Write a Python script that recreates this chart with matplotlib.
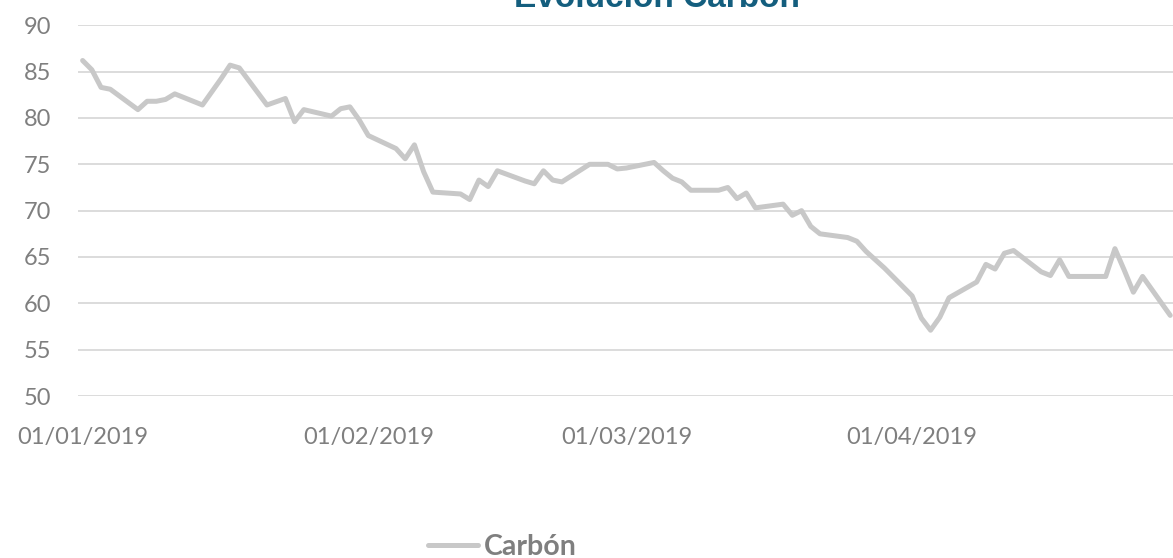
import matplotlib
matplotlib.use("Agg")

import matplotlib.pyplot as plt
import matplotlib.dates as mdates
import pandas as pd

# =============================================================================
# DATA (business days Jan-Apr 2019)
# =============================================================================
dates = [
    "2019-01-01", "2019-01-02", "2019-01-03", "2019-01-04",
    "2019-01-07", "2019-01-08", "2019-01-09", "2019-01-10", "2019-01-11",
    "2019-01-14", "2019-01-15", "2019-01-16", "2019-01-17", "2019-01-18",
    "2019-01-21", "2019-01-22", "2019-01-23", "2019-01-24", "2019-01-25",
    "2019-01-28", "2019-01-29", "2019-01-30", "2019-01-31", "2019-02-01",
    "2019-02-04", "2019-02-05", "2019-02-06", "2019-02-07", "2019-02-08",
    "2019-02-11", "2019-02-12", "2019-02-13", "2019-02-14", "2019-02-15",
    "2019-02-18", "2019-02-19", "2019-02-20", "2019-02-21", "2019-02-22",
    "2019-02-25", "2019-02-26", "2019-02-27", "2019-02-28", "2019-03-01",
    "2019-03-04", "2019-03-05", "2019-03-06", "2019-03-07", "2019-03-08",
    "2019-03-11", "2019-03-12", "2019-03-13", "2019-03-14", "2019-03-15",
    "2019-03-18", "2019-03-19", "2019-03-20", "2019-03-21", "2019-03-22",
    "2019-03-25", "2019-03-26", "2019-03-27", "2019-03-28", "2019-03-29",
    "2019-04-01", "2019-04-02", "2019-04-03", "2019-04-04", "2019-04-05",
    "2019-04-08", "2019-04-09", "2019-04-10", "2019-04-11", "2019-04-12",
    "2019-04-15", "2019-04-16", "2019-04-17", "2019-04-18",
    "2019-04-22", "2019-04-23", "2019-04-24", "2019-04-25", "2019-04-26",
    "2019-04-29",
]

carbon = [
    86.2, 85.2, 83.3, 83.1,
    80.9, 81.8, 81.8, 82.0, 82.6,
    81.4, 82.8, 84.2, 85.7, 85.4,
    81.4, 81.75, 82.1, 79.6, 80.9,
    80.2, 81.0, 81.2, 79.8, 78.1,
    76.7, 75.6, 77.1, 74.2, 72.0,
    71.8, 71.2, 73.3, 72.6, 74.3,
    73.2, 72.9, 74.3, 73.3, 73.1,
    75.0, 75.0, 75.0, 74.5, 74.6,
    75.2, 74.3, 73.5, 73.1, 72.2,
    72.2, 72.5, 71.3, 71.9, 70.3,
    70.7, 69.5, 70.0, 68.3, 67.5,
    67.1, 66.7, 65.6, 64.7, 63.8,
    60.8, 58.4, 57.1, 58.5, 60.6,
    62.3, 64.2, 63.7, 65.4, 65.7,
    63.4, 63.0, 64.7, 62.9,
    62.9, 65.9, 63.6, 61.2, 62.9,
    58.7,
]

month_ticks = ["2019-01-01", "2019-02-01", "2019-03-01", "2019-04-01"]
y_ticks = [50, 55, 60, 65, 70, 75, 80, 85, 90]

title_text = "Evolución Carbón"
series_name = "Carbón"

LINE_GREY = "#C8C8C8"
GRID_GREY = "#D9D9D9"
TEXT_GREY = "#7F7F7F"
TITLE_BLUE = "#145E7E"


def build_chart() -> plt.Figure:
    """
    Single gray line over a date axis, Excel-like styling: no spines,
    light horizontal gridlines, title partially clipped at the top edge.
    """
    x = pd.to_datetime(dates)

    fig = plt.figure(figsize=(11.73, 5.58), dpi=100)
    ax = fig.add_axes([0.0665, 0.2903, 0.9335, 0.6644])

    ax.plot(x, carbon, color=LINE_GREY, linewidth=3.6,
            solid_joinstyle="round", solid_capstyle="round", label=series_name)

    # Axis limits: half a day before Jan 1, cropped on the right like the reference
    start = pd.Timestamp("2019-01-01")
    ax.set_xlim(start - pd.Timedelta(hours=12), start + pd.Timedelta(days=118.3))
    ax.set_ylim(50, 90)

    ax.set_yticks(y_ticks)
    ax.set_xticks(pd.to_datetime(month_ticks))
    ax.xaxis.set_major_formatter(mdates.DateFormatter("%d/%m/%Y"))

    ax.grid(True, axis="y", color=GRID_GREY, linewidth=1.3)
    ax.set_axisbelow(True)
    for spine in ax.spines.values():
        spine.set_visible(False)

    ax.tick_params(axis="both", length=0, colors=TEXT_GREY, labelsize=17)
    ax.tick_params(axis="y", pad=19)
    ax.tick_params(axis="x", pad=22)
    for lbl in ax.get_xticklabels() + ax.get_yticklabels():
        lbl.set_fontfamily("Lato")

    # Title sits mostly above the visible canvas
    fig.text(0.560, 0.9875, title_text, ha="center", va="baseline",
             fontsize=24, fontweight="bold", color=TITLE_BLUE,
             family="Liberation Sans")

    leg = fig.legend(loc="center", bbox_to_anchor=(0.4284, 0.0197),
                     frameon=False, handlelength=1.75, handletextpad=0.2,
                     prop={"family": "Lato", "weight": "bold", "size": 20.5})
    for txt in leg.get_texts():
        txt.set_color(TEXT_GREY)

    return fig


if __name__ == "__main__":
    fig = build_chart()
    fig.savefig("out.png", dpi=100)
